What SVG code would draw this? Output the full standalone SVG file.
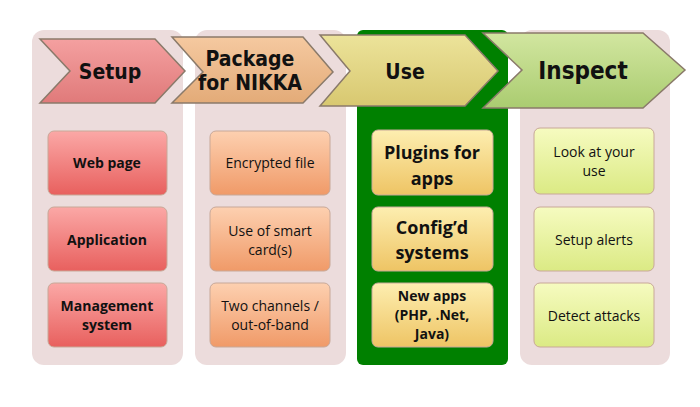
<svg xmlns="http://www.w3.org/2000/svg" width="700" height="407" viewBox="0 0 700 407">
<defs>
<linearGradient id="g1" x1="0" y1="0" x2="0" y2="1"><stop offset="0" stop-color="#fba8a6"/><stop offset="1" stop-color="#e8605e"/></linearGradient>
<linearGradient id="g2" x1="0" y1="0" x2="0" y2="1"><stop offset="0" stop-color="#fdd0b0"/><stop offset="1" stop-color="#f09a68"/></linearGradient>
<linearGradient id="g3" x1="0" y1="0" x2="0" y2="1"><stop offset="0" stop-color="#fdeeb0"/><stop offset="1" stop-color="#eec464"/></linearGradient>
<linearGradient id="g4" x1="0" y1="0" x2="0" y2="1"><stop offset="0" stop-color="#f6fbc0"/><stop offset="1" stop-color="#dbea84"/></linearGradient>
<linearGradient id="c1" x1="0" y1="0" x2="0" y2="1"><stop offset="0" stop-color="#f4a0a0"/><stop offset="1" stop-color="#e07a7a"/></linearGradient>
<linearGradient id="c2" x1="0" y1="0" x2="0" y2="1"><stop offset="0" stop-color="#f5c9a0"/><stop offset="1" stop-color="#e3ab78"/></linearGradient>
<linearGradient id="c3" x1="0" y1="0" x2="0" y2="1"><stop offset="0" stop-color="#ece39a"/><stop offset="1" stop-color="#d8c870"/></linearGradient>
<linearGradient id="c4" x1="0" y1="0" x2="0" y2="1"><stop offset="0" stop-color="#d2e6a0"/><stop offset="1" stop-color="#aacc70"/></linearGradient>
</defs>
<style>
.panel{fill:#ecdcdc}
.chev{stroke:#8a7a6a;stroke-width:1.5}
.box{stroke:#c8a898;stroke-width:1}
text{font-family:"Open Sans","DejaVu Sans",sans-serif;text-anchor:middle;fill:#111}
.h{font-family:"DejaVu Sans Condensed","DejaVu Sans",sans-serif;font-weight:bold;font-size:21px}
.b{font-weight:bold;font-size:14px}
.n{font-size:14px}
.u{font-weight:bold;font-size:18px}
</style>
<rect width="700" height="407" fill="#fff"/>
<g id="panels">
<rect class="panel" x="32" y="30" width="151" height="335" rx="12"/>
<rect class="panel" x="195" y="30" width="151" height="335" rx="12"/>
<rect x="357" y="30" width="151" height="335" rx="6" fill="#008000"/>
<rect class="panel" x="520" y="30" width="150" height="335" rx="12"/>
</g>
<g id="setup-head"><polygon class="chev" fill="url(#c1)" points="40,39 155,39 185,71 155,103 40,103 70,71"/><text class="h" x="110" y="79">Setup</text></g>
<g id="package-head"><polygon class="chev" fill="url(#c2)" points="172,37 303,37 333,72 303,103 172,103 203,72"/><text class="h" x="250" y="66">Package</text><text class="h" x="250" y="90">for NIKKA</text></g>
<g id="use-head"><polygon class="chev" fill="url(#c3)" points="320,35 465,35 498,71 465,106 320,106 350,71"/><text class="h" x="405" y="79">Use</text></g>
<g id="inspect-head"><polygon class="chev" fill="url(#c4)" points="483,33 643,33 685,70 643,108 483,108 522,70"/><text class="h" x="583" y="79" style="font-size:24px">Inspect</text></g>
<g id="web-page"><rect class="box" fill="url(#g1)" x="48" y="131" width="119" height="64" rx="6"/><text class="b" x="107" y="168">Web page</text></g>
<g id="application"><rect class="box" fill="url(#g1)" x="48" y="207" width="119" height="64" rx="6"/><text class="b" x="107" y="245">Application</text></g>
<g id="management"><rect class="box" fill="url(#g1)" x="48" y="283" width="119" height="64" rx="6"/><text class="b" x="107" y="311">Management</text><text class="b" x="107" y="330">system</text></g>
<g id="encrypted"><rect class="box" fill="url(#g2)" x="210" y="131" width="120" height="64" rx="6"/><text class="n" x="270" y="168">Encrypted file</text></g>
<g id="smartcard"><rect class="box" fill="url(#g2)" x="210" y="207" width="120" height="64" rx="6"/><text class="n" x="270" y="236">Use of smart</text><text class="n" x="270" y="255">card(s)</text></g>
<g id="twochannels"><rect class="box" fill="url(#g2)" x="210" y="283" width="120" height="64" rx="6"/><text class="n" x="270" y="311">Two channels /</text><text class="n" x="270" y="330">out-of-band</text></g>
<g id="plugins"><rect class="box" fill="url(#g3)" x="372" y="130" width="121" height="65" rx="6"/><text class="u" x="432" y="159">Plugins for</text><text class="u" x="432" y="185">apps</text></g>
<g id="configd"><rect class="box" fill="url(#g3)" x="372" y="207" width="121" height="64" rx="6"/><text class="u" x="432" y="234">Config’d</text><text class="u" x="432" y="259">systems</text></g>
<g id="newapps"><rect class="box" fill="url(#g3)" x="372" y="283" width="121" height="64" rx="6"/><text class="b" x="432" y="301">New apps</text><text class="b" x="432" y="320">(PHP, .Net,</text><text class="b" x="432" y="339">Java)</text></g>
<g id="look"><rect class="box" fill="url(#g4)" x="534" y="128" width="120" height="66" rx="6"/><text class="n" x="594" y="157">Look at your</text><text class="n" x="594" y="176">use</text></g>
<g id="alerts"><rect class="box" fill="url(#g4)" x="534" y="207" width="120" height="64" rx="6"/><text class="n" x="594" y="245">Setup alerts</text></g>
<g id="detect"><rect class="box" fill="url(#g4)" x="534" y="283" width="120" height="64" rx="6"/><text class="n" x="594" y="321">Detect attacks</text></g>
<g id="connectors"></g>
</svg>
